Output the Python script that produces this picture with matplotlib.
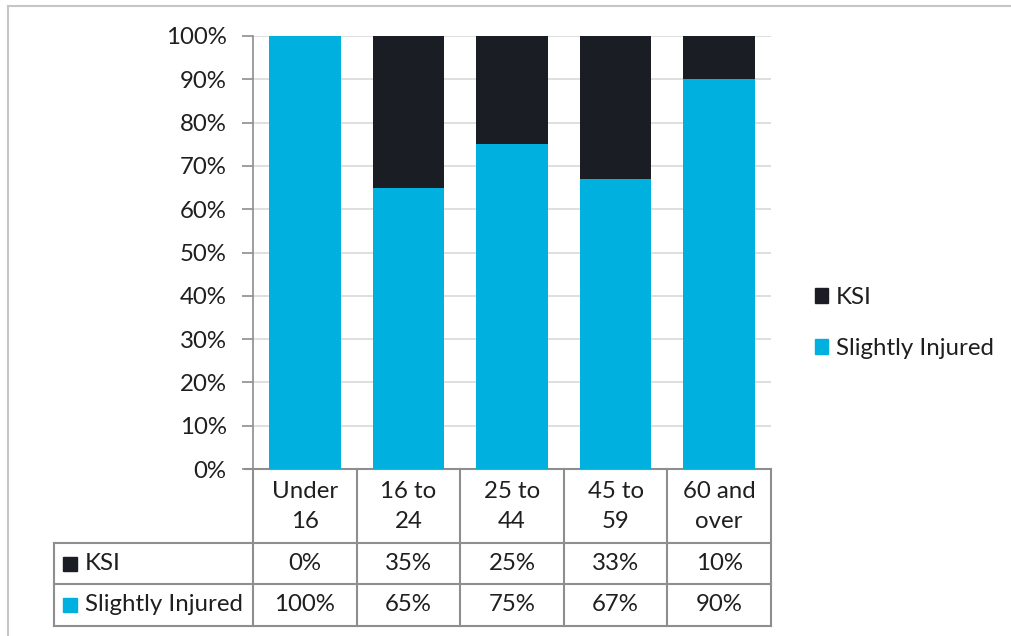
import matplotlib
matplotlib.use("Agg")
import matplotlib.pyplot as plt
from matplotlib.lines import Line2D
from matplotlib.patches import Rectangle
from matplotlib.transforms import blended_transform_factory
import numpy as np

categories = ["Under\n16", "16 to\n24", "25 to\n44", "45 to\n59", "60 and\nover"]
slightly_injured = [100, 65, 75, 67, 90]
ksi = [0, 35, 25, 33, 10]
series_names = ["KSI", "Slightly Injured"]
yticks = [0, 10, 20, 30, 40, 50, 60, 70, 80, 90, 100]

C_BLUE = "#00B0DF"
C_DARK = "#1A1D24"
GRID = "#D9D9D9"
LINE = "#8E8E8E"
TXT = "#1F1F1F"

plt.rcParams['font.family'] = ['Lato', 'DejaVu Sans']
FS = 17.3

W, H = 1011, 636
fig = plt.figure(figsize=(W / 100, H / 100), dpi=100)

def fx(px):
    return px / W

def fy(py):
    return 1 - py / H

ax_l, ax_r, ax_t, ax_b = 253, 771, 36, 469
ax = fig.add_axes([fx(ax_l), fy(ax_b), fx(ax_r) - fx(ax_l), fy(ax_t) - fy(ax_b)])

x = np.arange(len(categories))
ax.bar(x, slightly_injured, width=0.69, color=C_BLUE, zorder=3)
ax.bar(x, ksi, width=0.69, bottom=slightly_injured, color=C_DARK, zorder=3)

ax.set_xlim(-0.5, len(categories) - 0.5)
ax.set_ylim(0, 100)
ax.set_yticks(yticks)
ax.set_yticklabels([f"{v}%" for v in yticks], fontsize=FS, color=TXT)
ax.tick_params(axis='y', length=8, width=1.2, color=LINE, pad=11)
ax.set_xticks([])
ax.yaxis.grid(True, color=GRID, linewidth=1.2, zorder=0)
for s in ["top", "right"]:
    ax.spines[s].set_visible(False)
ax.spines["left"].set_color(LINE)
ax.spines["left"].set_linewidth(1.2)
ax.spines["bottom"].set_visible(False)

# Data table below the axes
ax_h = ax_b - ax_t

def ay(py):
    return (ax_b - py) / ax_h

tr = blended_transform_factory(ax.transData, ax.transAxes)
tr_ax = ax.transAxes
ax_w = ax_r - ax_l

def axx(px):
    return (px - ax_l) / ax_w

row1, row2, row3 = 543, 584, 626
lw = 1.5
# horizontal lines
ax.add_line(Line2D([axx(245), 1], [0, 0], transform=tr_ax, color=LINE, lw=lw, clip_on=False))
for py in [row1, row2, row3]:
    ax.add_line(Line2D([axx(54), 1], [ay(py), ay(py)], transform=tr_ax, color=LINE, lw=lw, clip_on=False))
# vertical lines
for b in np.arange(len(categories) + 1) - 0.5:
    ax.add_line(Line2D([b, b], [0, ay(row3)], transform=tr, color=LINE, lw=lw, clip_on=False))
ax.add_line(Line2D([axx(54), axx(54)], [ay(row1), ay(row3)], transform=tr_ax, color=LINE, lw=lw, clip_on=False))

for i, c in enumerate(categories):
    ax.text(i, ay(506.5), c, transform=tr, ha='center', va='center', fontsize=FS,
            color=TXT, linespacing=1.58, clip_on=False)
    ax.text(i, ay(563.5), f"{ksi[i]}%", transform=tr, ha='center', va='center',
            fontsize=FS, color=TXT, clip_on=False)
    ax.text(i, ay(604.5), f"{slightly_injured[i]}%", transform=tr, ha='center', va='center',
            fontsize=FS, color=TXT, clip_on=False)

# row headers with legend keys
for name, col, ymid in [(series_names[0], C_DARK, 563.5), (series_names[1], C_BLUE, 604.5)]:
    ax.add_patch(Rectangle((axx(63), ay(ymid + 7)), axx(77) - axx(63), ay(ymid - 7) - ay(ymid + 7),
                           transform=tr_ax, color=col, clip_on=False))
    ax.text(axx(85), ay(ymid), name, transform=tr_ax, ha='left', va='center',
            fontsize=FS, color=TXT, clip_on=False)

# legend on right
handles = [Rectangle((0, 0), 1, 1, color=C_DARK), Rectangle((0, 0), 1, 1, color=C_BLUE)]
fig.legend(handles, series_names, loc='center left', bbox_to_anchor=(fx(815), fy(323)),
           frameon=False, fontsize=FS, handlelength=0.55, handleheight=0.55,
           handletextpad=0.33, labelspacing=1.25, labelcolor=TXT,
           borderpad=0, borderaxespad=0)

# outer chart border
fig.add_artist(Line2D([fx(8), 1], [fy(6), fy(6)], color="#C6C6C6", lw=1.5))
fig.add_artist(Line2D([fx(8), fx(8)], [fy(6), 0], color="#C6C6C6", lw=1.5))

fig.savefig("out.png", dpi=100)
